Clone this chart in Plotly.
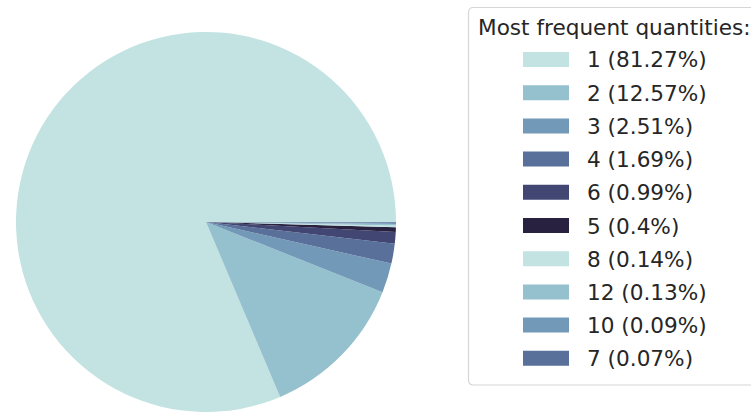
import plotly.graph_objects as go

# Quantity categories and their share of all orders (percent)
quantities = ["1", "2", "3", "4", "6", "5", "8", "12", "10", "7"]
shares = [81.27, 12.57, 2.51, 1.69, 0.99, 0.4, 0.14, 0.13, 0.09, 0.07]

# Six-step cubehelix palette (light -> dark), cycled over the slices
palette = ["#c3e2e2", "#95c0ce", "#7399b8", "#59709b", "#424673", "#282140"]
colors = [palette[i % len(palette)] for i in range(len(quantities))]

legend_title = "Most frequent quantities:"

W, H = 751, 412
FONT = "DejaVu Sans"
FS = 21.6

# Slices run counter-clockwise, the first one starting at 3 o'clock.
# Plotly anchors the first slice's clockwise edge at `rotation`, so shift by its sweep.
first_sweep = 360 * shares[0] / sum(shares)
rotation = 90 - first_sweep

fig = go.Figure(
    go.Pie(
        labels=quantities,
        values=shares,
        marker=dict(colors=colors, line=dict(width=0)),
        sort=False,
        direction="counterclockwise",
        rotation=rotation,
        textinfo="none",
        showlegend=False,
        domain=dict(x=[16 / W, 396 / W], y=[0, 380 / H]),
    )
)

def px(x):
    return x / W

def py(y):
    return 1 - y / H

# Legend frame (rounded box running off the right edge)
x0, y0, x1, y1, rad = 468.5, 7.5, 770, 385, 5
path = (
    f"M {px(x0 + rad)},{py(y0)} L {px(x1)},{py(y0)} L {px(x1)},{py(y1)} "
    f"L {px(x0 + rad)},{py(y1)} Q {px(x0)},{py(y1)} {px(x0)},{py(y1 - rad)} "
    f"L {px(x0)},{py(y0 + rad)} Q {px(x0)},{py(y0)} {px(x0 + rad)},{py(y0)} Z"
)
shapes = [dict(type="path", xref="paper", yref="paper", path=path,
               fillcolor="white", line=dict(color="#d6d6d6", width=1.2))]

annotations = [dict(text=legend_title, xref="paper", yref="paper",
                    x=px(476), y=py(28), xanchor="left", yanchor="middle",
                    showarrow=False, font=dict(family=FONT, size=FS, color="#262626"))]

row_top, row_step = 52, 33.2
for i, (q, s) in enumerate(zip(quantities, shares)):
    top = row_top + i * row_step
    shapes.append(dict(type="rect", xref="paper", yref="paper",
                       x0=px(523), x1=px(569), y0=py(top), y1=py(top + 15),
                       fillcolor=colors[i], line=dict(width=0)))
    annotations.append(dict(text=f"{q} ({s:g}%)", xref="paper", yref="paper",
                            x=px(585), y=py(top + 8), xanchor="left", yanchor="middle",
                            showarrow=False,
                            font=dict(family=FONT, size=FS, color="#262626")))

fig.update_layout(
    width=W, height=H,
    margin=dict(l=0, r=0, t=0, b=0),
    paper_bgcolor="white",
    plot_bgcolor="white",
    shapes=shapes,
    annotations=annotations,
    font=dict(family=FONT),
)

fig.write_html("out.html")
